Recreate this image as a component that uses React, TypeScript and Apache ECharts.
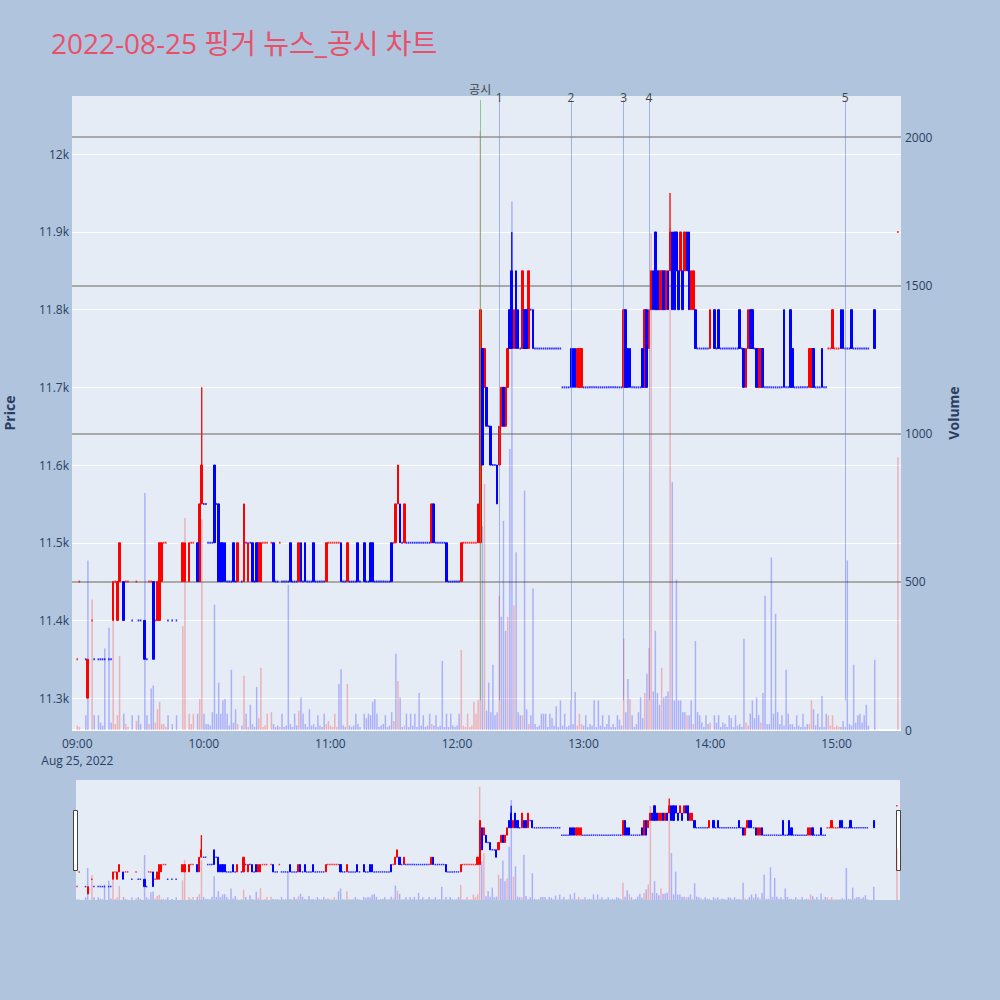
import React, { useEffect, useRef } from 'react';
import * as echarts from 'echarts';

// [minute from 09:00, open, close, volume, "candle colour + volume colour"]
type Bar = [number, number, number, number, string];

const bars09: Bar[] = [
  [0, 11350, 11350, 15, 'rr'], [1, 11450, 11450, 10, 'rr'], [4, 11350, 11350, 50, 'bb'], [5, 11300, 11350, 572, 'rb'],
  [7, 11400, 11400, 440, 'rr'], [8, 11350, 11350, 50, 'bb'], [10, 11350, 11350, 50, 'bb'], [11, 11350, 11350, 25, 'bb'],
  [12, 11350, 11350, 15, 'bb'], [13, 11350, 11350, 275, 'bb'], [15, 11350, 11350, 345, 'bb'], [16, 11350, 11350, 25, 'bb'],
  [17, 11400, 11450, 490, 'rr'], [18, 11450, 11450, 20, 'rr'], [19, 11400, 11450, 50, 'rr'], [20, 11450, 11500, 250, 'rr'],
  [22, 11450, 11400, 55, 'bb'], [23, 11450, 11450, 20, 'rr'], [24, 11450, 11450, 10, 'rr'], [26, 11400, 11400, 50, 'bb'],
  [28, 11450, 11450, 30, 'rr'], [29, 11400, 11400, 50, 'bb'], [30, 11400, 11400, 20, 'bb'], [32, 11400, 11350, 800, 'bb'],
  [33, 11350, 11350, 50, 'bb'], [34, 11450, 11450, 20, 'rr'], [35, 11450, 11450, 140, 'rb'], [36, 11450, 11350, 150, 'bb'],
  [37, 11400, 11400, 25, 'rr'], [38, 11400, 11450, 70, 'rr'], [39, 11400, 11500, 95, 'rr'], [40, 11450, 11500, 20, 'rr'],
  [41, 11500, 11500, 20, 'rr'], [42, 11500, 11500, 10, 'rr'], [43, 11400, 11400, 50, 'bb'], [45, 11400, 11400, 20, 'bb'],
  [47, 11400, 11400, 50, 'bb'], [50, 11450, 11500, 350, 'rr'], [51, 11450, 11500, 715, 'rr'], [53, 11450, 11500, 55, 'rr'],
  [54, 11500, 11500, 20, 'rr'], [55, 11500, 11500, 55, 'rr'], [57, 11500, 11450, 55, 'bb'], [58, 11450, 11550, 105, 'rr'],
  [59, 11550, 11600, 710, 'rr'],
];

const bars10: Bar[] = [
  [60, 11550, 11550, 55, 'bb'], [61, 11550, 11550, 20, 'bb'], [62, 11500, 11500, 20, 'bb'], [63, 11500, 11500, 15, 'bb'],
  [64, 11500, 11500, 60, 'bb'], [65, 11600, 11500, 423, 'bb'], [66, 11550, 11550, 55, 'bb'], [67, 11550, 11450, 160, 'bb'],
  [68, 11500, 11450, 55, 'bb'], [69, 11500, 11450, 100, 'bb'], [70, 11500, 11450, 105, 'bb'], [71, 11450, 11450, 55, 'bb'],
  [72, 11450, 11450, 15, 'bb'], [73, 11450, 11450, 203, 'bb'], [74, 11500, 11450, 25, 'bb'], [75, 11450, 11450, 70, 'bb'],
  [76, 11450, 11500, 20, 'rr'], [78, 11450, 11450, 15, 'bb'], [79, 11450, 11550, 183, 'rr'], [80, 11500, 11500, 55, 'bb'],
  [81, 11450, 11500, 10, 'rr'], [82, 11500, 11500, 85, 'bb'], [83, 11500, 11450, 20, 'bb'], [84, 11450, 11450, 10, 'bb'],
  [85, 11500, 11450, 145, 'bb'], [86, 11450, 11500, 40, 'rr'], [87, 11450, 11500, 210, 'rr'], [88, 11500, 11500, 10, 'rr'],
  [89, 11500, 11500, 15, 'rr'], [90, 11500, 11500, 55, 'rr'], [92, 11500, 11500, 60, 'rr'], [93, 11500, 11450, 20, 'bb'],
  [94, 11450, 11450, 10, 'bb'], [95, 11450, 11450, 15, 'bb'], [96, 11500, 11500, 10, 'rr'], [97, 11450, 11450, 55, 'bb'],
  [98, 11450, 11450, 10, 'bb'], [99, 11450, 11450, 15, 'bb'], [100, 11450, 11450, 490, 'bb'], [101, 11500, 11450, 20, 'bb'],
  [102, 11450, 11450, 10, 'bb'], [103, 11450, 11450, 55, 'bb'], [104, 11450, 11450, 15, 'bb'], [105, 11450, 11500, 65, 'rr'],
  [106, 11500, 11450, 110, 'bb'], [107, 11450, 11450, 55, 'bb'], [108, 11500, 11450, 20, 'bb'], [109, 11450, 11450, 10, 'bb'],
  [110, 11450, 11450, 70, 'bb'], [111, 11450, 11450, 15, 'bb'], [112, 11500, 11450, 20, 'bb'], [113, 11450, 11450, 10, 'bb'],
  [114, 11450, 11450, 50, 'bb'], [115, 11450, 11450, 15, 'bb'], [116, 11450, 11450, 10, 'bb'], [117, 11450, 11450, 55, 'bb'],
  [118, 11450, 11500, 20, 'rr'], [119, 11500, 11500, 30, 'rr'],
];

const bars11: Bar[] = [
  [120, 11500, 11500, 15, 'rr'], [121, 11500, 11500, 10, 'rr'], [122, 11500, 11500, 55, 'rr'], [123, 11500, 11500, 10, 'rr'],
  [124, 11500, 11500, 155, 'rb'], [125, 11500, 11450, 205, 'bb'], [126, 11450, 11450, 15, 'bb'], [127, 11450, 11450, 10, 'bb'],
  [128, 11450, 11500, 155, 'rr'], [129, 11450, 11450, 15, 'bb'], [130, 11450, 11450, 10, 'bb'], [131, 11450, 11450, 15, 'bb'],
  [132, 11450, 11450, 55, 'bb'], [133, 11500, 11450, 20, 'bb'], [134, 11450, 11450, 10, 'bb'], [136, 11500, 11450, 55, 'bb'],
  [137, 11450, 11450, 40, 'bb'], [138, 11450, 11450, 55, 'bb'], [139, 11500, 11450, 50, 'bb'], [140, 11500, 11450, 95, 'bb'],
  [141, 11450, 11450, 105, 'bb'], [142, 11450, 11450, 55, 'bb'], [143, 11450, 11450, 10, 'bb'], [144, 11450, 11450, 15, 'bb'],
  [145, 11450, 11450, 20, 'bb'], [146, 11450, 11450, 50, 'bb'], [147, 11450, 11450, 10, 'bb'], [148, 11450, 11450, 15, 'bb'],
  [149, 11450, 11500, 60, 'bb'], [150, 11500, 11500, 30, 'rr'], [151, 11500, 11550, 257, 'rb'], [152, 11550, 11600, 165, 'rr'],
  [153, 11550, 11500, 110, 'bb'], [154, 11500, 11500, 10, 'bb'], [155, 11500, 11550, 15, 'rr'], [156, 11500, 11500, 55, 'bb'],
  [157, 11500, 11500, 10, 'bb'], [158, 11500, 11500, 55, 'bb'], [159, 11500, 11500, 15, 'bb'], [160, 11500, 11500, 55, 'bb'],
  [161, 11500, 11500, 10, 'bb'], [162, 11500, 11500, 125, 'bb'], [163, 11500, 11500, 15, 'bb'], [164, 11500, 11500, 50, 'bb'],
  [165, 11500, 11500, 10, 'bb'], [166, 11500, 11500, 15, 'bb'], [167, 11500, 11500, 55, 'bb'], [168, 11500, 11550, 20, 'rr'],
  [169, 11550, 11500, 15, 'bb'], [170, 11500, 11500, 50, 'bb'], [171, 11500, 11500, 10, 'bb'], [172, 11500, 11500, 15, 'bb'],
  [173, 11500, 11500, 233, 'bb'], [174, 11500, 11500, 10, 'bb'], [175, 11500, 11450, 55, 'bb'], [176, 11450, 11450, 10, 'bb'],
  [177, 11450, 11450, 55, 'bb'], [178, 11450, 11450, 15, 'bb'], [179, 11450, 11450, 10, 'bb'],
];

const bars12: Bar[] = [
  [180, 11450, 11450, 15, 'bb'], [181, 11450, 11450, 55, 'bb'], [182, 11450, 11500, 270, 'rr'], [183, 11500, 11500, 15, 'rr'],
  [184, 11500, 11500, 10, 'rr'], [185, 11500, 11500, 55, 'rr'], [186, 11500, 11500, 10, 'rr'], [187, 11500, 11500, 15, 'rr'],
  [188, 11500, 11500, 95, 'rr'], [189, 11500, 11500, 55, 'rr'], [190, 11500, 11550, 100, 'rr'], [191, 11500, 11800, 2020, 'rr'],
  [192, 11750, 11600, 688, 'bb'], [193, 11700, 11750, 830, 'rr'], [194, 11700, 11650, 65, 'bb'], [195, 11650, 11650, 160, 'bb'],
  [196, 11650, 11600, 60, 'bb'], [197, 11600, 11600, 220, 'bb'], [198, 11600, 11600, 50, 'bb'], [199, 11600, 11550, 60, 'bb'],
  [200, 11600, 11650, 453, 'rr'], [201, 11650, 11700, 382, 'rb'], [202, 11700, 11650, 706, 'bb'], [203, 11650, 11700, 334, 'rb'],
  [204, 11700, 11750, 382, 'rr'], [205, 11800, 11750, 948, 'bb'], [206, 11850, 11750, 1783, 'bb'], [207, 11750, 11800, 420, 'rr'],
  [208, 11850, 11750, 600, 'bb'], [209, 11800, 11750, 60, 'bb'], [210, 11750, 11750, 50, 'bb'], [211, 11750, 11850, 50, 'rr'],
  [212, 11800, 11750, 808, 'bb'], [213, 11800, 11750, 70, 'bb'], [214, 11750, 11850, 20, 'rr'], [215, 11800, 11800, 50, 'bb'],
  [216, 11800, 11750, 477, 'bb'], [217, 11750, 11750, 20, 'bb'], [218, 11750, 11750, 10, 'bb'], [219, 11750, 11750, 15, 'bb'],
  [220, 11750, 11750, 55, 'bb'], [221, 11750, 11750, 55, 'bb'], [222, 11750, 11750, 55, 'bb'], [223, 11750, 11750, 10, 'bb'],
  [224, 11750, 11750, 55, 'bb'], [225, 11750, 11750, 40, 'bb'], [226, 11750, 11750, 15, 'bb'], [227, 11750, 11750, 80, 'bb'],
  [228, 11750, 11750, 10, 'bb'], [229, 11750, 11750, 100, 'bb'], [230, 11700, 11700, 15, 'bb'], [231, 11700, 11700, 55, 'bb'],
  [232, 11700, 11700, 10, 'bb'], [233, 11700, 11700, 15, 'bb'], [234, 11750, 11700, 100, 'bb'], [235, 11750, 11700, 20, 'bb'],
  [236, 11750, 11700, 128, 'bb'], [237, 11700, 11750, 15, 'rr'], [238, 11700, 11750, 55, 'rr'], [239, 11700, 11750, 20, 'rr'],
];

const bars13: Bar[] = [
  [240, 11700, 11700, 15, 'bb'], [241, 11700, 11700, 50, 'bb'], [242, 11700, 11700, 10, 'bb'], [243, 11700, 11700, 20, 'bb'],
  [244, 11700, 11700, 15, 'bb'], [245, 11700, 11700, 100, 'bb'], [246, 11700, 11700, 10, 'bb'], [247, 11700, 11700, 100, 'bb'],
  [248, 11700, 11700, 15, 'bb'], [249, 11700, 11700, 50, 'bb'], [250, 11700, 11700, 10, 'bb'], [251, 11700, 11700, 20, 'bb'],
  [252, 11700, 11700, 50, 'bb'], [253, 11700, 11700, 10, 'bb'], [254, 11700, 11700, 20, 'bb'], [255, 11700, 11700, 10, 'bb'],
  [256, 11700, 11700, 50, 'bb'], [257, 11700, 11700, 35, 'bb'], [258, 11700, 11700, 15, 'bb'], [259, 11700, 11800, 308, 'rr'],
  [260, 11800, 11700, 60, 'bb'], [261, 11750, 11700, 172, 'bb'], [262, 11750, 11700, 105, 'br'], [263, 11700, 11700, 50, 'bb'],
  [264, 11700, 11700, 10, 'bb'], [265, 11700, 11700, 20, 'bb'], [266, 11700, 11700, 60, 'bb'], [267, 11700, 11700, 110, 'bb'],
  [268, 11750, 11700, 40, 'bb'], [269, 11700, 11800, 125, 'rr'], [270, 11800, 11700, 190, 'bb'], [271, 11750, 11800, 277, 'rr'],
  [272, 11800, 11850, 1675, 'rr'], [273, 11850, 11800, 130, 'bb'], [274, 11900, 11800, 335, 'bb'], [275, 11850, 11800, 125, 'bb'],
  [276, 11800, 11850, 85, 'rb'], [277, 11800, 11850, 210, 'rr'], [278, 11850, 11800, 110, 'bb'], [279, 11800, 11850, 115, 'rb'],
  [280, 11850, 11800, 130, 'bb'], [281, 11850, 11900, 1695, 'rr'], [282, 11900, 11800, 836, 'bb'], [283, 11900, 11800, 100, 'bb'],
  [284, 11900, 11850, 507, 'bb'], [285, 11850, 11800, 100, 'bb'], [286, 11850, 11900, 100, 'rb'], [287, 11850, 11800, 60, 'bb'],
  [288, 11850, 11900, 60, 'rb'], [289, 11900, 11850, 50, 'br'], [290, 11900, 11800, 50, 'bb'], [291, 11800, 11850, 100, 'rb'],
  [292, 11800, 11850, 20, 'rr'], [293, 11800, 11750, 300, 'bb'], [294, 11750, 11750, 60, 'bb'], [295, 11750, 11750, 50, 'bb'],
  [296, 11750, 11750, 25, 'bb'], [297, 11750, 11750, 10, 'bb'], [298, 11750, 11750, 50, 'bb'], [299, 11750, 11750, 20, 'bb'],
];

const bars14: Bar[] = [
  [300, 11750, 11800, 25, 'rr'], [302, 11800, 11750, 50, 'bb'], [303, 11750, 11750, 25, 'bb'], [304, 11800, 11750, 50, 'bb'],
  [305, 11750, 11750, 10, 'bb'], [306, 11750, 11750, 25, 'bb'], [307, 11750, 11750, 20, 'bb'], [308, 11750, 11750, 10, 'bb'],
  [309, 11750, 11750, 50, 'bb'], [310, 11750, 11750, 40, 'bb'], [311, 11750, 11750, 10, 'bb'], [312, 11750, 11750, 50, 'bb'],
  [313, 11750, 11750, 15, 'bb'], [314, 11800, 11750, 20, 'bb'], [315, 11750, 11750, 10, 'bb'], [316, 11750, 11700, 308, 'bb'],
  [317, 11700, 11750, 25, 'rr'], [318, 11750, 11800, 15, 'rr'], [319, 11800, 11750, 55, 'bb'], [320, 11800, 11750, 100, 'bb'],
  [321, 11750, 11750, 40, 'bb'], [322, 11750, 11700, 110, 'bb'], [323, 11700, 11750, 50, 'rb'], [324, 11700, 11750, 25, 'rr'],
  [325, 11750, 11700, 125, 'bb'], [326, 11700, 11700, 453, 'bb'], [327, 11700, 11700, 20, 'bb'], [328, 11700, 11700, 20, 'bb'],
  [329, 11700, 11700, 582, 'bb'], [330, 11700, 11700, 55, 'bb'], [331, 11700, 11700, 392, 'bb'], [332, 11700, 11700, 60, 'bb'],
  [333, 11700, 11700, 20, 'bb'], [334, 11700, 11700, 50, 'bb'], [335, 11800, 11700, 15, 'bb'], [336, 11700, 11700, 203, 'bb'],
  [337, 11700, 11700, 55, 'bb'], [338, 11800, 11700, 20, 'bb'], [339, 11750, 11700, 20, 'bb'], [340, 11700, 11700, 10, 'bb'],
  [341, 11700, 11700, 50, 'bb'], [342, 11700, 11700, 15, 'bb'], [343, 11700, 11700, 10, 'bb'], [344, 11700, 11700, 55, 'bb'],
  [345, 11700, 11700, 10, 'bb'], [346, 11700, 11700, 20, 'bb'], [347, 11700, 11750, 20, 'rr'], [348, 11700, 11750, 100, 'rr'],
  [349, 11750, 11700, 70, 'bb'], [350, 11700, 11700, 15, 'bb'], [351, 11700, 11700, 55, 'bb'], [352, 11700, 11700, 10, 'bb'],
  [353, 11750, 11700, 115, 'bb'], [354, 11700, 11700, 10, 'bb'], [355, 11700, 11700, 55, 'bb'], [356, 11750, 11750, 50, 'rr'],
  [357, 11750, 11750, 15, 'rr'], [358, 11750, 11800, 50, 'rr'], [359, 11750, 11750, 10, 'rr'],
];

const bars15: Bar[] = [
  [360, 11750, 11750, 15, 'rr'], [361, 11750, 11750, 10, 'rr'], [362, 11800, 11750, 10, 'bb'], [363, 11800, 11750, 30, 'bb'],
  [364, 11750, 11750, 10, 'bb'], [365, 11750, 11750, 572, 'bb'], [366, 11750, 11750, 20, 'bb'], [367, 11800, 11750, 15, 'bb'],
  [368, 11750, 11750, 220, 'bb'], [369, 11750, 11750, 25, 'bb'], [370, 11750, 11750, 50, 'bb'], [371, 11750, 11750, 55, 'bb'],
  [372, 11750, 11750, 25, 'bb'], [373, 11750, 11750, 50, 'bb'], [374, 11750, 11750, 85, 'bb'], [375, 11750, 11750, 15, 'bb'],
  [378, 11800, 11750, 237, 'bb'], [389, 11900, 11900, 920, 'rr'],
];

// upper wicks [minute, high]
const highs: [number, number][] = [[59, 11700], [206, 11900], [281, 11950]];

// news / disclosure markers [label, minute]
const events: [string, number][] = [['공시', 191], ['1', 200], ['2', 234], ['3', 259], ['4', 271], ['5', 364]];

const priceMin = 11259;
const priceMax = 12075;
const volMax = 2139;
const lastMinute = 390;

const allBars = [...bars09, ...bars10, ...bars11, ...bars12, ...bars13, ...bars14, ...bars15];

const minuteLabel = (m: number) => {
  const t = 540 + m;
  const hh = Math.floor(t / 60);
  const mm = t % 60;
  return String(hh).padStart(2, '0') + ':' + String(mm).padStart(2, '0');
};

const blank = (n: number) => Array.from({ length: n }, () => '-' as any);

const RED = '#ff0000';
const BLUE = '#0000ff';
const COLOR: Record<string, string> = { r: RED, b: BLUE };
const VOL_COLOR: Record<string, string> = { r: 'rgba(255,0,0,0.25)', b: 'rgba(0,0,255,0.25)' };
const FONT = '"Open Sans", "Noto Sans CJK KR", sans-serif';
const INK = '#2a3f5f';

// splits the minute bars into series arrays aligned to a category axis starting at `first`
const build = (first: number) => {
  const n = lastMinute - first + 1;
  const cats: string[] = [];
  for (let i = 0; i < n; i++) cats.push(minuteLabel(first + i));
  const s: Record<string, any[]> = {};
  ['body_r', 'body_b', 'vol_r', 'vol_b', 'wickBase', 'wickTop'].forEach((k) => (s[k] = blank(n)));
  s.flat_r = [];
  s.flat_b = [];
  allBars.forEach(([m, o, c, v, col]) => {
    const i = m - first;
    const top = Math.max(o, c);
    if (o === c) s['flat_' + col[0]].push([i, o]);
    else s['body_' + col[0]][i] = [o, c, Math.min(o, c), top];
    s['vol_' + col[1]][i] = v;
    const hi = highs.find((h) => h[0] === m);
    if (hi) {
      s.wickBase[i] = top;
      s.wickTop[i] = { value: hi[1] - top, itemStyle: { color: COLOR[col[0]] } };
    }
  });
  return { cats, s };
};

const candle = (data: any[], color: string, xi: number, yi: number, w: number) => ({
  type: 'candlestick',
  xAxisIndex: xi,
  yAxisIndex: yi,
  data,
  barWidth: w,
  itemStyle: { color, color0: color, borderColor: color, borderColor0: color, borderWidth: 1 },
  z: 3,
});

const bar = (data: any[], color: string, xi: number, yi: number, w: number, stack?: string) => ({
  type: 'bar',
  xAxisIndex: xi,
  yAxisIndex: yi,
  data,
  stack,
  barWidth: w,
  barGap: '-100%',
  itemStyle: { color },
  z: 2,
});

const flats = (data: any[], color: string, xi: number, yi: number, size: number[]) => ({
  type: 'scatter',
  xAxisIndex: xi,
  yAxisIndex: yi,
  data,
  symbol: 'rect',
  symbolSize: size,
  itemStyle: { color },
  z: 3,
});

const priceSeries = (s: Record<string, any[]>, xi: number, yi: number, vi: number, body: number, dot: number[]) => [
  bar(s.vol_r, VOL_COLOR.r, xi, vi, 1.5),
  bar(s.vol_b, VOL_COLOR.b, xi, vi, 1.5),
  bar(s.wickBase, 'rgba(0,0,0,0)', xi, yi, 1.3, 'wick'),
  bar(s.wickTop, RED, xi, yi, 1.3, 'wick'),
  flats(s.flat_r, RED, xi, yi, dot),
  flats(s.flat_b, BLUE, xi, yi, dot),
  candle(s.body_r, RED, xi, yi, body),
  candle(s.body_b, BLUE, xi, yi, body),
];

const App: React.FC = () => {
  const chartRef = useRef<HTMLDivElement>(null);

  useEffect(() => {
    if (!chartRef.current) return;
    const chart = echarts.init(chartRef.current, undefined, { renderer: 'svg' });
    const main = build(-2);
    const mini = build(0);

    const option = {
      animation: false,
      backgroundColor: '#b0c4de',
      textStyle: { fontFamily: FONT },
      title: {
        text: '2022-08-25 핑거 뉴스_공시 차트',
        left: 46,
        top: 24,
        textStyle: { color: '#e8506a', fontSize: 28, fontWeight: 'normal', fontFamily: FONT },
      },
      grid: [
        {
          left: 72, top: 96, width: 829, height: 634, show: true, backgroundColor: '#e5ecf6', borderWidth: 0,
          containLabel: false, outerBoundsMode: 'none',
        },
        {
          left: 76, top: 780, width: 824, height: 120, show: true, backgroundColor: '#e5ecf6', borderWidth: 0,
          containLabel: false, outerBoundsMode: 'none',
        },
      ],
      xAxis: [
        {
          type: 'category',
          gridIndex: 0,
          data: main.cats,
          axisLine: { show: false },
          axisTick: { show: false },
          splitLine: { show: false },
          axisLabel: {
            interval: (_i: number, v: string) => v.endsWith(':00'),
            formatter: (v: string) => (v === '09:00' ? '09:00\nAug 25, 2022' : v),
            color: INK,
            fontSize: 12,
            lineHeight: 17,
            margin: 5,
          },
        },
        { type: 'category', gridIndex: 1, data: mini.cats, show: false },
      ],
      yAxis: [
        {
          type: 'value',
          gridIndex: 0,
          position: 'left',
          min: priceMin,
          max: priceMax,
          splitNumber: 8,
          name: 'Price',
          nameLocation: 'middle',
          nameGap: 56,
          nameTextStyle: { color: INK, fontSize: 14, fontWeight: 'bold' },
          axisLine: { show: false },
          axisTick: { show: false },
          axisLabel: {
            color: INK,
            fontSize: 12,
            margin: 3,
            showMinLabel: false,
            showMaxLabel: false,
            formatter: (v: number) => `${+(v / 1000).toFixed(2)}k`,
          },
          splitLine: { show: true, showMinLine: false, showMaxLine: false, lineStyle: { color: '#ffffff', width: 1 } },
        },
        {
          type: 'value',
          gridIndex: 0,
          position: 'right',
          min: 0,
          max: volMax,
          splitNumber: 4,
          name: 'Volume',
          nameLocation: 'middle',
          nameGap: 45,
          nameRotate: 90,
          nameTextStyle: { color: INK, fontSize: 14, fontWeight: 'bold' },
          axisLine: { show: false },
          axisTick: { show: false },
          axisLabel: { color: INK, fontSize: 12, margin: 4, showMaxLabel: false, formatter: (v: number) => String(v) },
          splitLine: {
            show: true,
            showMaxLine: false,
            lineStyle: { color: ['#ffffff', '#a9a9a9', '#a9a9a9', '#a9a9a9', '#a9a9a9'], width: 2 },
          },
        },
        { type: 'value', gridIndex: 1, min: priceMin, max: priceMax, show: false },
        { type: 'value', gridIndex: 1, min: 0, max: volMax, show: false },
      ],
      graphic: [
        { type: 'rect', left: 73, top: 810, shape: { width: 4, height: 60 }, style: { fill: '#fff', stroke: '#444', lineWidth: 1 } },
        { type: 'rect', left: 896, top: 810, shape: { width: 4, height: 60 }, style: { fill: '#fff', stroke: '#444', lineWidth: 1 } },
      ],
      series: [
        ...priceSeries(main.s, 0, 0, 1, 2.2, [1.6, 2]),
        ...priceSeries(mini.s, 1, 2, 3, 1.6, [1.5, 1.5]),
        {
          name: 'events',
          type: 'line',
          xAxisIndex: 0,
          yAxisIndex: 1,
          data: [],
          z: 10,
          markLine: {
            silent: true,
            symbol: ['none', 'none'],
            data: events.map(([label, m]) => {
              const green = label === '공시';
              return [
                {
                  coord: [minuteLabel(m), 100],
                  lineStyle: {
                    color: green ? 'rgba(70,180,70,0.6)' : 'rgba(90,115,240,0.5)',
                    width: 1,
                    type: 'solid',
                  },
                  label: {
                    show: true,
                    position: 'end',
                    formatter: label,
                    color: '#444',
                    fontSize: 12,
                    distance: green ? 5 : -3,
                  },
                },
                { coord: [minuteLabel(m), 2125] },
              ];
            }),
          },
        },
      ],
    };

    chart.setOption(option as any);
    return () => {
      chart.dispose();
    };
  }, []);

  return <div ref={chartRef} style={{ position: 'fixed', left: 0, top: 0, width: 1000, height: 1000 }} />;
};

export default App;
